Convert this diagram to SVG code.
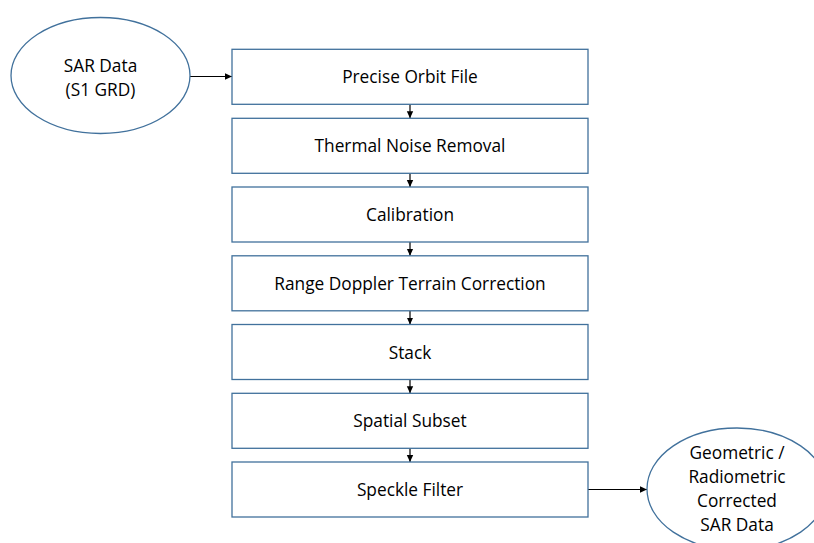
<svg xmlns="http://www.w3.org/2000/svg" width="814" height="543" viewBox="0 0 814 543">
<style>
.n{fill:#fff;stroke:#41719c;stroke-width:1.3}
.t{font-family:"Open Sans","Liberation Sans",sans-serif;font-size:17.3px;fill:#000;text-anchor:middle}
.c{stroke:#000;stroke-width:1.2;fill:none;marker-end:url(#a)}
</style>
<defs>
<marker id="a" markerWidth="8" markerHeight="8" refX="7" refY="4" orient="auto" markerUnits="userSpaceOnUse">
<path d="M0,0.8 L7,4 L0,7.2 Z" fill="#000"/>
</marker>
</defs>
<rect width="814" height="543" fill="#fff"/>
<g id="connectors">
<line class="c" x1="190" y1="76.5" x2="232" y2="76.5"/>
<line class="c" x1="410" y1="104.3" x2="410" y2="118.3"/>
<line class="c" x1="410" y1="173.3" x2="410" y2="187"/>
<line class="c" x1="410" y1="242" x2="410" y2="255.8"/>
<line class="c" x1="410" y1="310.8" x2="410" y2="324.5"/>
<line class="c" x1="410" y1="379.5" x2="410" y2="393.3"/>
<line class="c" x1="410" y1="448.3" x2="410" y2="462"/>
<line class="c" x1="588" y1="489.5" x2="647" y2="489.5"/>
</g>
<g id="sar-data">
<ellipse class="n" cx="100.5" cy="75.5" rx="89.5" ry="58"/>
<text class="t" x="100.5" y="71.5">SAR Data</text>
<text class="t" x="100.5" y="95.5">(S1 GRD)</text>
</g>
<g id="precise-orbit">
<rect class="n" x="232" y="49.3" width="356" height="55"/>
<text class="t" x="410" y="83">Precise Orbit File</text>
</g>
<g id="thermal-noise">
<rect class="n" x="232" y="118.3" width="356" height="55"/>
<text class="t" x="410" y="152">Thermal Noise Removal</text>
</g>
<g id="calibration">
<rect class="n" x="232" y="187" width="356" height="55"/>
<text class="t" x="410" y="221">Calibration</text>
</g>
<g id="terrain-correction">
<rect class="n" x="232" y="255.8" width="356" height="55"/>
<text class="t" x="410" y="289.5">Range Doppler Terrain Correction</text>
</g>
<g id="stack">
<rect class="n" x="232" y="324.5" width="356" height="55"/>
<text class="t" x="410" y="358.5">Stack</text>
</g>
<g id="spatial-subset">
<rect class="n" x="232" y="393.3" width="356" height="55"/>
<text class="t" x="410" y="427">Spatial Subset</text>
</g>
<g id="speckle-filter">
<rect class="n" x="232" y="462" width="356" height="55"/>
<text class="t" x="410" y="496">Speckle Filter</text>
</g>
<g id="corrected-sar">
<ellipse class="n" cx="737" cy="489" rx="90" ry="61"/>
<text class="t" x="737" y="458.5">Geometric /</text>
<text class="t" x="737" y="482.5">Radiometric</text>
<text class="t" x="737" y="506.5">Corrected</text>
<text class="t" x="737" y="530.5">SAR Data</text>
</g>
</svg>
